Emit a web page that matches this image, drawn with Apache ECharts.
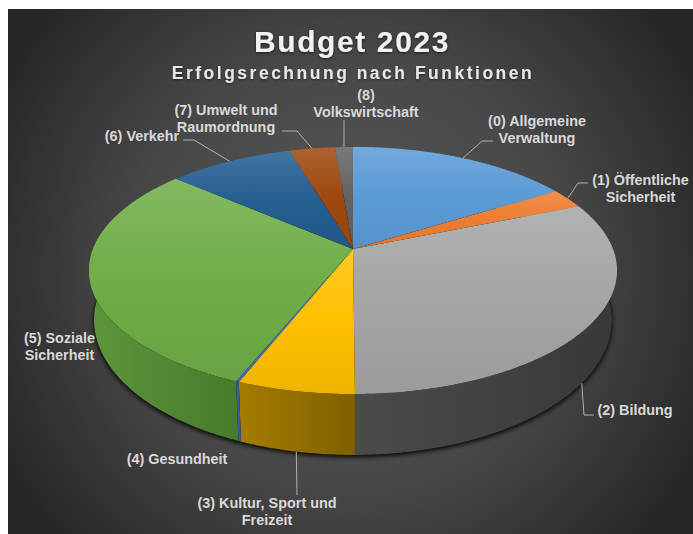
<!DOCTYPE html>
<html><head><meta charset="utf-8">
<style>
html,body{margin:0;padding:0;background:#fff}
#c{width:693px;height:534px}
svg text[style*="30px"]{letter-spacing:1.6px}
svg text[style*="17.5px"]{letter-spacing:2.5px}
</style>
<script src="https://cdn.jsdelivr.net/npm/echarts@6/dist/echarts.min.js"></script>
</head><body><div id="c"></div>
<script>
const categories=["(0) Allgemeine\nVerwaltung","(1) Öffentliche\nSicherheit","(2) Bildung","(3) Kultur, Sport und\nFreizeit","(4) Gesundheit","(5) Soziale\nSicherheit","(6) Verkehr","(7) Umwelt und\nRaumordnung","(8)\nVolkswirtschaft"];
const shares=[16.2,2.6,31.1,6.1,0.15,30.15,9.1,3.3,1.3];
const colors=["#5b9bd5","#ed7d31","#a5a5a5","#ffc000","#4472c4","#70ad47","#255e91","#9e480e","#636363"];
const wallRight=["#3c6c96","#a0551f","#383838","#7f6000","#2f5f9a","#487a2c","#1a4266","#6e320a","#444444"];
const wallLeft=["#3c6c96","#a0551f","#4b4b4b","#a67c00","#2f5f9a","#5e963c","#1a4266","#6e320a","#444444"];
const labelCenter=[[537,129.5],[640.5,188.5],[635,410],[267,511],[177,459],[59.5,346.5],[142,136],[226,118],[366,103.5]];
const leaderBends=[[[482,141],[493,141]],[[578,183],[588,183]],[[584,415],[594,415]],[[297,495]],[],[],[[194,140],[183,140]],[[297,131],[282,131]],[[344,120]]];
const leaderAnchor=[.5,.5,.525,.5,.5,.5,.5,.5,.5];

const cx=353,pers=0.174;
const topFace={B:260,A:119.8,y:249};
const botFace={B:255,A:130.9,y:296.5};
const total=shares.reduce((a,b)=>a+b,0);
function project(f,theta){
  const u=Math.sin(theta),v=Math.cos(theta),w=1+pers*v;
  return [cx+f.B*u/w,f.y-f.A*v/w];
}
function arc(f,a,b){
  const n=Math.max(2,Math.ceil(Math.abs(b-a)/0.01)),p=[];
  for(let i=0;i<=n;i++)p.push(project(f,a+(b-a)*i/n));
  return p;
}
function mix(hex,target,t){
  const c=echarts.color.parse(hex),g=target;
  return `rgb(${Math.round(c[0]+(g-c[0])*t)},${Math.round(c[1]+(g-c[1])*t)},${Math.round(c[2]+(g-c[2])*t)})`;
}
function startAngle(i){
  let s=0;for(let k=0;k<i;k++)s+=shares[k];
  return s/total*Math.PI*2;
}
function renderItem(params,api){
  const i=params.dataIndex,a=startAngle(i),b=a+api.value(0)/total*Math.PI*2;
  const children=[];
  if(i===0){
    children.push({type:'polygon',z2:0,shape:{points:arc(botFace,0,Math.PI*2)},
      style:{fill:'#000',shadowBlur:5,shadowColor:'rgba(0,0,0,0.95)',shadowOffsetY:2}});
  }
  const topArc=arc(topFace,a,b),botArc=arc(botFace,a,b);
  const xs=topArc.map(p=>p[0]);
  children.push({type:'polygon',z2:1,shape:{points:topArc.concat(botArc.slice().reverse())},
    style:{fill:new echarts.graphic.LinearGradient(Math.max(...xs),0,Math.min(...xs),0,
      [{offset:0,color:wallRight[i]},{offset:1,color:wallLeft[i]}],true)}});
  children.push({type:'polygon',z2:2,shape:{points:[[cx,topFace.y]].concat(topArc)},
    style:{fill:new echarts.graphic.LinearGradient(0,0,0,1,[
      {offset:0,color:mix(colors[i],255,.14)},
      {offset:.5,color:colors[i]},
      {offset:1,color:mix(colors[i],0,.06)}]),stroke:null}});
  const bends=leaderBends[i];
  if(bends.length){
    const t=a+(b-a)*leaderAnchor[i];
    const front=Math.cos(t)<-0.3;
    children.push({type:'polyline',z2:3,shape:{points:[project(front?botFace:topFace,t)].concat(bends)},
      style:{fill:null,stroke:'#b0b0b0',lineWidth:1}});
  }
  children.push({type:'text',z2:4,x:labelCenter[i][0],y:labelCenter[i][1],
    style:{text:categories[i],fill:'#d9d9d9',font:'bold 14.4px "Liberation Sans"',
      align:'center',verticalAlign:'middle',lineHeight:17}});
  return {type:'group',children};
}
const chart=echarts.init(document.getElementById('c'),null,{renderer:'svg',width:693,height:534});
chart.setOption({
  animation:false,
  backgroundColor:'#ffffff',
  title:[
    {text:'Budget 2023',left:347,top:21,textAlign:'center',
     textStyle:{color:'#f2f2f2',fontFamily:'Liberation Sans',fontWeight:'bold',fontSize:30,textShadowColor:'rgba(0,0,0,.6)',textShadowBlur:3,textShadowOffsetY:1}},
    {text:'Erfolgsrechnung nach Funktionen',left:348,top:59,textAlign:'center',
     textStyle:{color:'#e6e6e6',fontFamily:'Liberation Sans',fontWeight:'bold',fontSize:17.5,textShadowColor:'rgba(0,0,0,.5)',textShadowBlur:2,textShadowOffsetY:1}}
  ],
  graphic:[{type:'rect',z:-10,silent:true,shape:{x:8,y:9,width:685,height:525},
    style:{fill:new echarts.graphic.RadialGradient(350,270,400,
      [{offset:0,color:'#5a5a5a'},{offset:.55,color:'#474747'},{offset:1,color:'#262626'}],true)}}],
  series:[{type:'custom',coordinateSystem:'none',silent:true,clip:false,
    data:shares.map(v=>[v]),renderItem}]
});
</script></body></html>
